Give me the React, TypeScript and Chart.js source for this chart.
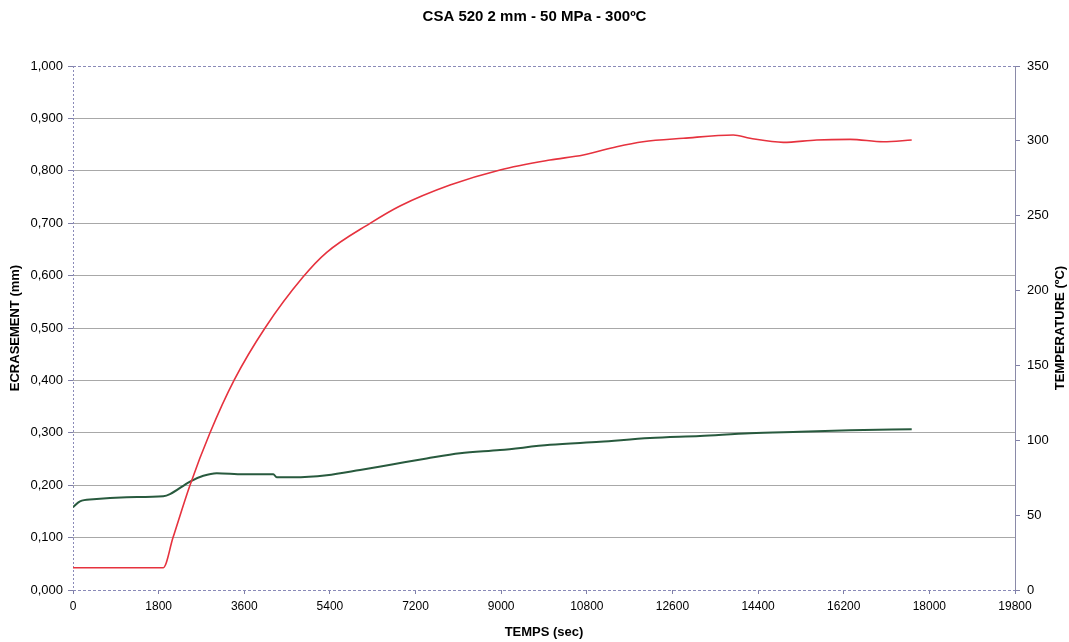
import React, { useEffect, useRef } from "react";
import { Chart, registerables } from "chart.js";

Chart.register(...registerables);

const chartTitle = "CSA 520 2 mm - 50 MPa - 300ºC";
const xTitle = "TEMPS (sec)";
const yLeftTitle = "ECRASEMENT (mm)";
const yRightTitle = "TEMPERATURE (ºC)";

// Temperature series (right axis)
const tempTime = [0, 1898, 2102, 2459, 2880, 3384, 4036, 4834, 5333, 6243, 6873, 7924, 8975, 10026, 10726, 11428, 11981, 12828, 13879, 14230, 14930, 15632, 16332, 17032, 17629];
const tempValues = [14.9, 14.9, 35, 70, 105, 140, 175, 209, 225.5, 244.9, 256.5, 270.5, 280.6, 287.2, 290.6, 296.1, 299.4, 301.7, 303.9, 301.7, 299.0, 300.6, 301.0, 299.4, 300.6];

// Ecrasement series (left axis)
const ecrTime = [0, 147, 427, 1129, 1898, 2039, 2459, 2739, 3020, 3580, 4210, 4282, 4631, 5333, 6033, 6733, 7434, 8134, 8975, 10026, 11077, 12128, 13179, 14230, 15281, 16332, 17629];
const ecrValues = [0.158, 0.169, 0.173, 0.177, 0.179, 0.183, 0.207, 0.218, 0.223, 0.221, 0.221, 0.215, 0.215, 0.219, 0.229, 0.240, 0.251, 0.261, 0.267, 0.277, 0.283, 0.290, 0.294, 0.299, 0.302, 0.305, 0.307];

const FONT = "'Liberation Sans', Arial, sans-serif";

const framePlugin = {
  id: "frame",
  beforeDatasetsDraw(chart: any) {
    const { ctx, chartArea: a } = chart;
    ctx.save();
    ctx.lineWidth = 1;
    ctx.strokeStyle = "#8a8ab8";
    ctx.setLineDash([3, 2]);
    ctx.beginPath();
    ctx.moveTo(a.left, a.top + 0.5);
    ctx.lineTo(a.right, a.top + 0.5);
    ctx.moveTo(a.left, a.bottom + 0.5);
    ctx.lineTo(a.right, a.bottom + 0.5);
    ctx.stroke();
    ctx.setLineDash([2, 2]);
    ctx.beginPath();
    ctx.moveTo(a.left + 0.5, a.top);
    ctx.lineTo(a.left + 0.5, a.bottom);
    ctx.stroke();
    ctx.setLineDash([]);
    ctx.strokeStyle = "#8a8aa8";
    ctx.beginPath();
    ctx.moveTo(a.right + 0.5, a.top);
    ctx.lineTo(a.right + 0.5, a.bottom);
    ctx.stroke();
    ctx.restore();
  },
  afterDraw(chart: any) {
    const { ctx, chartArea: a } = chart;
    ctx.save();
    ctx.fillStyle = "#000";
    ctx.font = `bold 13px ${FONT}`;
    ctx.textAlign = "center";
    ctx.textBaseline = "middle";
    ctx.translate(1060, (a.top + a.bottom) / 2);
    ctx.rotate(-Math.PI / 2);
    ctx.fillText(yRightTitle, 0, 0);
    ctx.restore();
  },
};

export default function App() {
  const ref = useRef<HTMLCanvasElement | null>(null);

  useEffect(() => {
    if (!ref.current) return;
    const chart = new Chart(ref.current, {
      type: "line",
      data: {
        datasets: [
          {
            label: "Temperature",
            data: tempTime.map((t, i) => ({ x: t, y: tempValues[i] })),
            yAxisID: "y2",
            borderColor: "rgb(230,50,62)",
            borderWidth: 1.6,
            pointRadius: 0,
            cubicInterpolationMode: "monotone",
          },
          {
            label: "Ecrasement",
            data: ecrTime.map((t, i) => ({ x: t, y: ecrValues[i] })),
            yAxisID: "y",
            borderColor: "rgb(40,90,62)",
            borderWidth: 2,
            pointRadius: 0,
            cubicInterpolationMode: "monotone",
          },
        ],
      },
      options: {
        animation: false,
        responsive: false,
        maintainAspectRatio: false,
        layout: { padding: 0 },
        plugins: {
          legend: { display: false },
          tooltip: { enabled: false },
          title: {
            display: true,
            text: chartTitle,
            color: "#000",
            font: { family: FONT, size: 15, weight: "bold", lineHeight: 1.2 },
            padding: { top: 8, bottom: 40 },
          },
        },
        scales: {
          x: {
            type: "linear",
            min: 0,
            max: 19800,
            afterFit: (s: any) => { s.height = 52; },
            ticks: {
              stepSize: 1800,
              color: "#000",
              font: { family: FONT, size: 12 },
              padding: 5,
              maxRotation: 0,
              autoSkip: false,
              callback: (v: any) => String(v),
            },
            grid: { drawOnChartArea: false, tickLength: 4, tickColor: "#8080a8" },
            border: { display: false },
            title: {
              display: true,
              text: xTitle,
              color: "#000",
              font: { family: FONT, size: 13, weight: "bold", lineHeight: 1.2 },
              padding: { top: 0, bottom: 2.2 },
            },
          },
          y: {
            type: "linear",
            position: "left",
            min: 0,
            max: 1,
            afterFit: (s: any) => { s.width = 73; },
            ticks: {
              stepSize: 0.1,
              color: "#000",
              font: { family: FONT, size: 13 },
              padding: 5,
              callback: (v: any) => Number(v).toFixed(3).replace(".", ","),
            },
            grid: {
              color: (c: any) => {
                const v = c.tick ? c.tick.value : 0;
                return v <= 0.0001 || v >= 0.9999 ? "rgba(0,0,0,0)" : "#a8a8a8";
              },
              lineWidth: 1,
              tickLength: 5,
              tickColor: "#8080a8",
            },
            border: { display: false },
            title: {
              display: true,
              text: yLeftTitle,
              color: "#000",
              font: { family: FONT, size: 13, weight: "bold", lineHeight: 1.2 },
              padding: { top: 8, bottom: 0 },
            },
          },
          y2: {
            type: "linear",
            position: "right",
            min: 0,
            max: 350,
            afterFit: (s: any) => { s.width = 54; },
            ticks: {
              stepSize: 50,
              color: "#000",
              font: { family: FONT, size: 13 },
              padding: 7,
            },
            grid: { drawOnChartArea: false, tickLength: 5, tickColor: "#8080a8" },
            border: { display: false },
            title: { display: false },
          },
        },
      },
      plugins: [framePlugin],
    } as any);
    return () => chart.destroy();
  }, []);

  return (
    <div style={{ position: "fixed", left: 0, top: 0, width: 1069, height: 642, background: "#fff" }}>
      <canvas ref={ref} width={1069} height={642} style={{ width: 1069, height: 642, display: "block" }} />
    </div>
  );
}
